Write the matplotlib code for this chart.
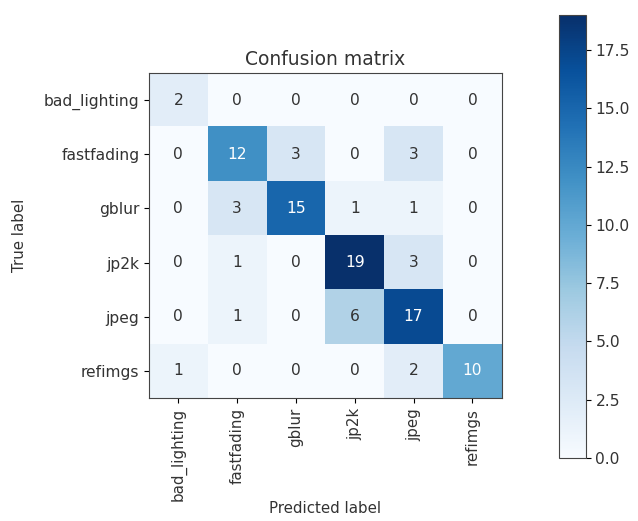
import numpy as np
import matplotlib
matplotlib.use("Agg")
import matplotlib.pyplot as plt

classes = ["bad_lighting", "fastfading", "gblur", "jp2k", "jpeg", "refimgs"]
cm = np.array([
    [2, 0, 0, 0, 0, 0],
    [0, 12, 3, 0, 3, 0],
    [0, 3, 15, 1, 1, 0],
    [0, 1, 0, 19, 3, 0],
    [0, 1, 0, 6, 17, 0],
    [1, 0, 0, 0, 2, 10],
])

plt.rcParams["font.size"] = 11.2
plt.rcParams["text.color"] = "#333333"
plt.rcParams["xtick.labelcolor"] = "#333333"
plt.rcParams["ytick.labelcolor"] = "#333333"
plt.rcParams["axes.labelcolor"] = "#333333"
fig = plt.figure(figsize=(6.38, 5.21), dpi=100)
ax = fig.add_axes([0.2335, 0.236, 0.553, 0.624])
cax = fig.add_axes([0.876, 0.121, 0.042, 0.850])

im = ax.imshow(cm, interpolation="nearest", cmap=plt.cm.Blues, aspect="auto")
ax.set_title("Confusion matrix", fontsize=13.5)
cb = fig.colorbar(im, cax=cax)
cb.outline.set_edgecolor("#444444")

ticks = np.arange(len(classes))
ax.set_xticks(ticks)
ax.set_xticklabels(classes, rotation=90, fontsize=10.8)
ax.set_yticks(ticks)
ax.set_yticklabels(classes)

thresh = cm.max() / 2.0
for i in range(cm.shape[0]):
    for j in range(cm.shape[1]):
        ax.text(j, i, format(cm[i, j], "d"), ha="center", va="center",
                color="white" if cm[i, j] > thresh else "#333333")

for s in ax.spines.values():
    s.set_edgecolor("#444444")

ax.set_ylabel("True label", fontsize=10.8)
ax.set_xlabel("Predicted label", fontsize=10.8)
ax.yaxis.set_label_coords(-0.345, 0.5)
ax.xaxis.set_label_coords(0.5, -0.318)

fig.savefig("out.png", dpi=100)
